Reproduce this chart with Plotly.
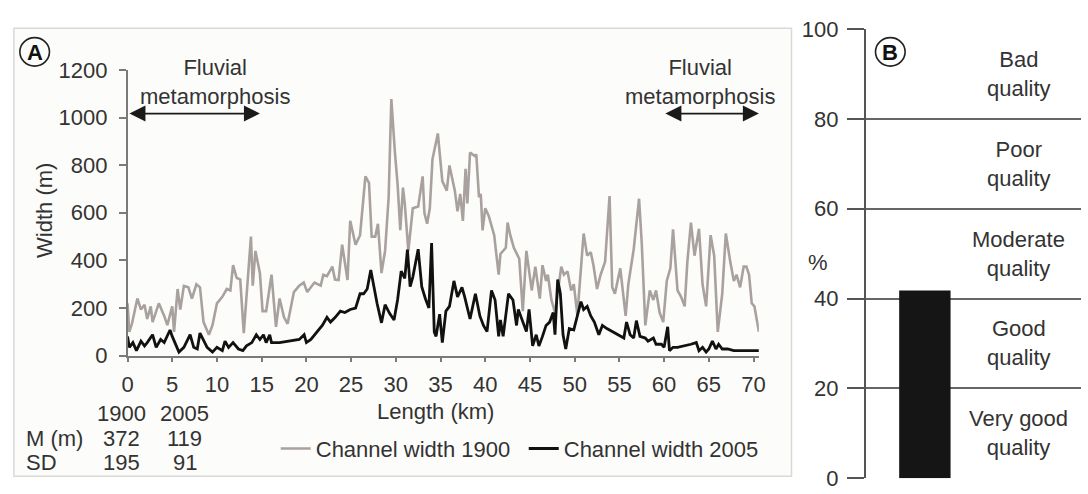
import plotly.graph_objects as go

# ---------------- data ----------------
km_1900 = [0.0, 0.2, 0.5, 1.1, 1.5, 1.9, 2.2, 2.6, 2.8, 3.5, 4.1, 4.45, 5.0, 5.2, 5.6, 5.9,
           6.3, 6.8, 7.2, 7.7, 8.1, 8.5, 9.1, 9.5, 10.0, 10.6, 11.1, 11.5, 11.8, 12.2, 12.6,
           13.0, 13.8, 14.0, 14.3, 14.8, 15.1, 15.5, 16.1, 16.6, 17.0, 17.5, 17.9, 18.6,
           19.2, 19.7, 20.1, 20.9, 21.6, 21.9, 22.3, 22.9, 23.2, 23.6, 24.0, 24.6, 24.9,
           25.5, 26.0, 26.6, 27.0, 27.3, 27.7, 28.0, 28.4, 28.8, 29.2, 29.5, 29.9, 30.2,
           30.5, 30.8, 31.0, 31.4, 31.9, 32.5, 33.0, 33.2, 33.5, 33.8, 34.1, 34.7, 35.2,
           35.7, 36.0, 36.6, 36.9, 37.2, 37.5, 37.8, 38.0, 38.3, 38.8, 39.0, 39.3, 39.5,
           39.7, 40.0, 40.4, 41.0, 41.5, 41.7, 42.3, 42.5, 42.8, 43.2, 43.8, 44.2, 44.6,
           44.9, 45.2, 45.6, 46.1, 46.4, 46.8, 47.0, 47.4, 47.8, 48.5, 48.8, 49.2, 49.6,
           49.9, 50.3, 51.0, 51.4, 51.8, 52.1, 52.5, 52.9, 53.4, 53.9, 54.2, 54.5, 55.1,
           55.7, 56.0, 56.6, 57.2, 57.5, 57.9, 58.4, 58.8, 59.1, 59.5, 59.9, 60.3, 60.7,
           61.0, 61.5, 61.9, 62.3, 62.6, 63.0, 63.4, 63.9, 64.3, 64.7, 65.2, 65.6, 66.0,
           66.5, 66.9, 67.4, 67.8, 68.1, 68.5, 68.9, 69.2, 69.5, 69.8, 70.1, 70.6]
width_1900 = [220, 100, 135, 240, 194, 214, 154, 207, 141, 220, 167, 128, 207, 100, 280, 194,
              293, 287, 240, 300, 287, 141, 88, 128, 220, 247, 280, 274, 380, 327, 320,
              95, 500, 294, 440, 347, 187, 187, 340, 121, 240, 161, 134, 267,
              294, 307, 267, 307, 294, 340, 334, 374, 320, 318, 466, 318, 566,
              466, 506, 753, 726, 500, 500, 554, 347, 440, 666, 1078, 853, 719,
              527, 706, 639, 440, 619, 626, 753, 599, 554, 619, 825, 933, 733,
              693, 799, 693, 606, 679, 566, 785, 639, 853, 839, 845, 666, 679,
              526, 619, 586, 506, 340, 427, 453, 559, 506, 453, 407, 187, 440,
              347, 274, 374, 240, 380, 314, 340, 234, 181, 374, 340, 354, 274,
              300, 170, 513, 420, 434, 380, 280, 340, 394, 670, 287, 260, 367,
              167, 300, 447, 659, 473, 127, 274, 234, 274, 181, 141, 314, 367,
              530, 274, 247, 207, 394, 559, 420, 533, 300, 207, 506, 420, 100,
              260, 513, 394, 314, 340, 287, 374, 374, 340, 220, 207, 100]

km_2005 = [0.0, 0.2, 0.6, 1.0, 1.5, 1.9, 2.2, 2.8, 3.2, 3.7, 4.1, 4.45, 4.75, 5.0, 5.4, 5.75,
           6.3, 6.6, 7.0, 7.4, 7.8, 8.1, 8.5, 8.9, 9.5, 10.0, 10.6, 10.9, 11.3, 11.8, 12.4,
           12.9, 13.3, 13.9, 14.4, 14.8, 15.2, 15.5, 15.9, 16.1, 17.0, 18.1, 19.2, 19.75,
           20.0, 20.5, 21.2, 21.8, 22.3, 22.7, 23.2, 23.8, 24.3, 24.9, 25.5, 26.0, 26.4,
           26.8, 27.2, 27.5, 27.9, 28.4, 28.8, 29.3, 29.8, 30.2, 30.6, 31.0, 31.3, 31.6,
           31.9, 32.5, 32.9, 33.3, 33.7, 34.0, 34.3, 34.5, 34.9, 35.2, 35.6, 36.0, 36.5,
           36.9, 37.4, 37.7, 38.3, 38.9, 39.4, 39.8, 40.2, 40.7, 41.1, 41.5, 41.7, 42.0,
           42.6, 43.1, 43.5, 43.7, 44.2, 44.6, 44.9, 45.3, 45.7, 46.0, 46.4, 46.8, 47.2,
           47.6, 47.8, 48.1, 48.4, 48.7, 49.0, 49.4, 49.9, 50.3, 50.7, 51.0, 51.4, 51.8,
           52.2, 52.7, 53.1, 53.6, 54.2, 54.9, 55.5, 55.8, 56.2, 56.6, 56.9, 57.3, 57.9,
           58.2, 58.8, 59.1, 59.7, 60.0, 60.4, 60.6, 61.0, 61.5, 62.3, 63.0, 63.6, 63.9,
           64.3, 64.7, 65.0, 65.4, 65.8, 66.1, 66.5, 67.1, 67.8, 68.9, 70.6]
width_2005 = [81, 35, 55, 21, 61, 41, 55, 88, 35, 68, 55, 88, 108, 81, 48, 15,
              35, 61, 88, 35, 28, 95, 68, 35, 15, 35, 21, 61, 35, 55, 28,
              21, 41, 55, 88, 68, 88, 55, 88, 55, 55, 61, 68, 88,
              55, 68, 101, 128, 161, 141, 160, 187, 181, 194, 200, 260, 260,
              280, 360, 294, 220, 138, 214, 178, 150, 235, 355, 325, 445, 290,
              330, 447, 290, 240, 200, 473, 100, 81, 174, 55, 187, 207, 314,
              247, 287, 247, 154, 260, 167, 127, 101, 274, 234, 81, 150, 81,
              260, 234, 127, 194, 141, 101, 194, 41, 88, 41, 81, 127, 141,
              181, 88, 320, 260, 88, 28, 114, 108, 167, 227, 194, 207, 167,
              141, 88, 127, 114, 101, 88, 74, 141, 88, 74, 147, 81, 74,
              61, 74, 48, 48, 35, 121, 21, 35, 35, 41, 48, 55, 21,
              35, 15, 28, 61, 28, 48, 28, 28, 21, 21, 21]

series_names = ["Channel width 1900", "Channel width 2005"]
stat_years = ["1900", "2005"]
stat_mean = ["372", "119"]
stat_sd = ["195", "91"]

quality_classes = ["Very good<br>quality", "Good<br>quality", "Moderate<br>quality",
                   "Poor<br>quality", "Bad<br>quality"]
quality_mid = [10, 30, 50, 70, 90]
bar_category = ["River"]
bar_value = [41.8]

# ---------------- layout helpers ----------------
W, H = 1088, 494
FONT = "Liberation Sans, Arial, Helvetica, sans-serif"
TXT = "#333333"
AX = "#7a7a7a"
FS = 22


def px(x):
    return x / W


def py(y):
    return 1 - y / H


def label(x, y, text, size=FS, xanchor="center", **kw):
    fig.add_annotation(x=px(x), y=py(y), xref="paper", yref="paper", text=text, showarrow=False,
                       xanchor=xanchor, yanchor="middle", font=dict(family=FONT, size=size, color=TXT),
                       **kw)


fig = go.Figure()

fig.add_trace(go.Scatter(x=km_1900, y=width_1900, mode="lines", name=series_names[0],
                         line=dict(color="#a9a19e", width=2.6), xaxis="x", yaxis="y"))
fig.add_trace(go.Scatter(x=km_2005, y=width_2005, mode="lines", name=series_names[1],
                         line=dict(color="#111111", width=2.8), xaxis="x", yaxis="y"))
fig.add_trace(go.Bar(x=bar_category, y=bar_value, width=0.6, marker=dict(color="#151515", line=dict(width=0)),
                     showlegend=False, xaxis="x2", yaxis="y2"))

tickfont = dict(family=FONT, size=FS, color=TXT)

fig.update_layout(
    width=W, height=H, autosize=False,
    margin=dict(l=0, r=0, t=0, b=0, pad=0),
    paper_bgcolor="white",
    plot_bgcolor="rgba(0,0,0,0)",
    font=dict(family=FONT, size=FS, color=TXT),
    xaxis=dict(domain=[px(123), px(762)], range=[0, 70.6], tickvals=list(range(0, 75, 5)),
               showline=True, linecolor=AX, linewidth=1.5, ticks="outside", ticklen=5,
               tickcolor=AX, tickwidth=1.5, showgrid=False, zeroline=False,
               tickfont=tickfont, ticklabelstandoff=3, anchor="y"),
    yaxis=dict(domain=[py(362), py(61)], range=[0, 1200], tickvals=list(range(0, 1400, 200)),
               showline=True, linecolor=AX, linewidth=1.5, ticks="outside", ticklen=7,
               tickcolor=AX, tickwidth=1.5, showgrid=False, zeroline=False,
               tickfont=tickfont, ticklabelstandoff=7, anchor="x"),
    xaxis2=dict(domain=[px(870), 1.0], range=[-0.692, 1.823], type="category",
                showticklabels=False, ticks="", showline=False, showgrid=False,
                zeroline=False, anchor="y2"),
    yaxis2=dict(domain=[py(491), py(18)], range=[0, 100], tickvals=[0, 20, 40, 60, 80, 100],
                showline=True, linecolor="#555555", linewidth=1.5, ticks="outside",
                ticklen=17, tickcolor="#555555", tickwidth=1.5,
                showgrid=True, gridcolor="#666666", gridwidth=1.5, zeroline=False,
                tickfont=tickfont, ticklabelstandoff=4, anchor="x2"),
    showlegend=True,
    legend=dict(orientation="h", x=px(273), y=py(460), xanchor="left", yanchor="middle",
                font=dict(family=FONT, size=FS, color=TXT), bgcolor="rgba(0,0,0,0)",
                entrywidth=203, entrywidthmode="pixels", tracegroupgap=0),
)

# left panel frame
fig.add_shape(type="rect", xref="paper", yref="paper", x0=px(8), x1=px(795), y0=py(489), y1=py(17),
              line=dict(color="#d9d9d6", width=1.5), fillcolor="#fcfcfa", layer="below")

# circled labels
for cx, letter in [(29, "A"), (895, "B")]:
    fig.add_shape(type="circle", xref="paper", yref="paper", x0=px(cx - 15), x1=px(cx + 15),
                  y0=py(57), y1=py(27), line=dict(color="#222222", width=1.6))
    fig.add_annotation(x=px(cx), y=py(43), xref="paper", yref="paper", text="<b>%s</b>" % letter,
                       showarrow=False, font=dict(family=FONT, size=22, color="#111111"),
                       xanchor="center", yanchor="middle")

# axis titles
label(39, 209, "Width (m)", textangle=-90)
label(435, 421, "Length (km)")
label(822, 264, "%")

# fluvial metamorphosis labels and arrows
for cx, x0a, x1a in [(212, 125, 257), (702, 667, 762)]:
    label(cx, 74, "Fluvial<br>metamorphosis", align="center")
    fig.add_annotation(x=px(x1a), y=py(107), ax=x0a - x1a, ay=0, xref="paper", yref="paper",
                       axref="pixel", ayref="pixel", text="", showarrow=True, arrowhead=2,
                       arrowside="end+start", arrowsize=2.0, arrowwidth=1.6, arrowcolor="#1a1a1a",
                       standoff=0, startstandoff=0)

# stats table
rows = [("", stat_years, 423), ("M (m)", stat_mean, 449), ("SD", stat_sd, 475)]
for lab, vals, yy in rows:
    if lab:
        label(18, yy, lab, xanchor="left")
    for cx, v in zip([117, 181], vals):
        label(cx, yy, v)

# quality class labels
for lab, ym in zip(quality_classes, quality_mid):
    fig.add_annotation(x=px(1025), y=ym, xref="paper", yref="y2", text=lab, showarrow=False,
                       xanchor="center", yanchor="middle", align="center",
                       font=dict(family=FONT, size=FS, color=TXT))

fig.write_html("out.html", config={"responsive": False, "displayModeBar": False},
               post_script=("document.documentElement.style.margin='0';"
                            "document.body.style.margin='0';document.body.style.padding='0';"
                            "document.body.style.overflow='hidden';"))
